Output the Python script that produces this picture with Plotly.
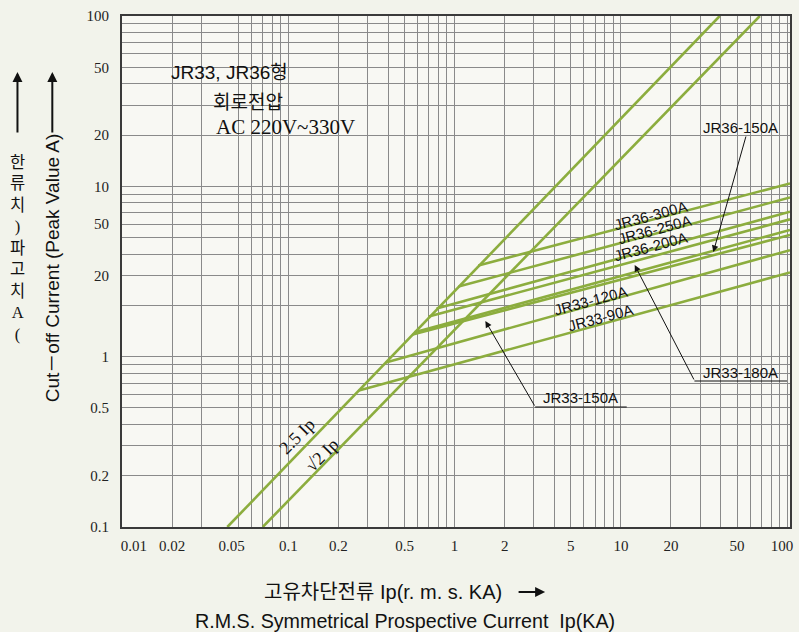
import plotly.graph_objects as go
import math

# ---------------- data ----------------
GREEN = "#8cad3e"

# diagonal reference lines (Ip in kA rms -> peak kA), end points
DIAG_25_X = [0.043, 39.3]
DIAG_25_Y = [0.1, 100.0]
DIAG_SQ2_X = [0.0702, 68.5]
DIAG_SQ2_Y = [0.1, 100.0]

# cut-off characteristics: start on 2.5 Ip line, end at right border
JR36_300_X = [1.39, 104.0]
JR36_300_Y = [3.43, 10.4]
JR36_250_X = [1.057, 104.0]
JR36_250_Y = [2.58, 8.6]
JR36_200_X = [0.78, 104.0]
JR36_200_Y = [1.92, 7.1]
JR33_180_X = [0.70, 104.0]
JR33_180_Y = [1.72, 6.4]
JR36_150_X = [0.575, 104.0]
JR36_150_Y = [1.39, 5.55]
JR33_150_X = [0.56, 104.0]
JR33_150_Y = [1.35, 5.18]
JR33_120_X = [0.386, 104.0]
JR33_120_Y = [0.925, 4.22]
JR33_90_X = [0.266, 104.0]
JR33_90_Y = [0.632, 3.12]

SERIES = [
    (DIAG_25_X, DIAG_25_Y), (DIAG_SQ2_X, DIAG_SQ2_Y),
    (JR36_300_X, JR36_300_Y), (JR36_250_X, JR36_250_Y), (JR36_200_X, JR36_200_Y),
    (JR33_180_X, JR33_180_Y), (JR36_150_X, JR36_150_Y), (JR33_150_X, JR33_150_Y),
    (JR33_120_X, JR33_120_Y), (JR33_90_X, JR33_90_Y),
]

# grid lines
X_GRID = [0.02, 0.03, 0.05, 0.06, 0.07, 0.08, 0.09,
          0.1, 0.2, 0.3, 0.4, 0.5, 0.6, 0.7, 0.8, 0.9,
          1, 2, 3, 4, 5, 6, 7, 8, 9,
          10, 20, 30, 40, 50, 60, 70, 80, 90, 100]
Y_GRID = [0.2, 0.3, 0.4, 0.5, 0.6, 0.7, 0.8, 0.9,
          1, 2, 3, 4, 5, 6, 7, 8, 9,
          10, 20, 30, 40, 50, 60, 70, 80, 90]

# tick labels (as printed on the chart)
X_TICK_POS = [0.0118, 0.02, 0.0456, 0.1, 0.2, 0.5, 1, 2, 5, 10, 20, 50, 93]
X_TICK_TEXT = ["0.01", "0.02", "0.05", "0.1", "0.2", "0.5", "1", "2", "5", "10", "20", "50", "100"]
Y_TICK_POS = [100, 50, 20, 10, 6, 3, 1, 0.5, 0.2, 0.1]
Y_TICK_TEXT = ["100", "50", "20", "10", "50", "20", "1", "0.5", "0.2", "0.1"]

X_RANGE = [math.log10(0.01), math.log10(104)]
Y_RANGE = [-1, 2]

# ---------------- figure ----------------
fig = go.Figure()
for xs, ys in SERIES:
    fig.add_trace(go.Scatter(x=xs, y=ys, mode="lines",
                             line=dict(color=GREEN, width=2.6),
                             hoverinfo="skip", showlegend=False))
# dummy trace for overlay axes
fig.add_trace(go.Scatter(x=[], y=[], xaxis="x2", yaxis="y2", showlegend=False))

SERIF = "Liberation Serif, Times New Roman, serif"
SANS = "Liberation Sans, Arial, Noto Sans CJK KR, sans-serif"
KR = "Noto Sans CJK KR, sans-serif"
AXC = "#3a3a3a"
GRIDC = "#8a8a8a"

fig.update_layout(
    width=799, height=632,
    margin=dict(l=122, r=6, t=16, b=105),
    paper_bgcolor="#f2f3eb",
    plot_bgcolor="#f8f8f3",
    xaxis=dict(type="log", range=X_RANGE, tickmode="array", tickvals=X_GRID,
               showticklabels=False, ticks="", showgrid=True, gridcolor=GRIDC,
               gridwidth=1.2, showline=True, linecolor=AXC, linewidth=2,
               mirror=True, zeroline=False),
    yaxis=dict(type="log", range=Y_RANGE, tickmode="array", tickvals=Y_GRID,
               showticklabels=False, ticks="", showgrid=True, gridcolor=GRIDC,
               gridwidth=1.2, showline=True, linecolor=AXC, linewidth=2,
               mirror=True, zeroline=False),
    xaxis2=dict(type="log", range=X_RANGE, overlaying="x", side="bottom",
                anchor="y2", tickmode="array", tickvals=X_TICK_POS,
                ticktext=X_TICK_TEXT, showgrid=False, showline=False,
                ticks="", ticklabelstandoff=8, zeroline=False,
                tickfont=dict(family=SERIF, size=15, color="#222")),
    yaxis2=dict(type="log", range=Y_RANGE, overlaying="y", side="left",
                anchor="x2", tickmode="array", tickvals=Y_TICK_POS,
                ticktext=Y_TICK_TEXT, showgrid=False, showline=False,
                ticks="", ticklabelstandoff=12, zeroline=False,
                tickfont=dict(family=SERIF, size=15, color="#222")),
    showlegend=False,
)

L, W, T, H = 122, 671, 16, 511


def px(x):
    return (x - L) / W


def py(y):
    return (T + H - y) / H


ann = []


def text(t, x, y, size=14, family=SANS, angle=0, xanchor="center", color="#111"):
    ann.append(dict(text=t, x=px(x), y=py(y), xref="paper", yref="paper",
                    showarrow=False, textangle=angle, xanchor=xanchor,
                    yanchor="middle", font=dict(family=family, size=size, color=color)))


def arrow(hx, hy, tx, ty, width=1, size=1.3, head=2, color="#111"):
    ann.append(dict(text="", x=px(hx), y=py(hy), xref="paper", yref="paper",
                    showarrow=True, ax=tx - hx, ay=ty - hy, arrowhead=head,
                    arrowsize=size, arrowwidth=width, arrowcolor=color))


# top-left info
text("JR33, JR36형", 230, 72, size=19)
text("회로전압", 249, 100, size=19, family=KR)
text("AC 220V~330V", 286, 127, size=21, family=SERIF)

# diagonal labels
text("2.5 Ip", 298, 436, size=18, family=SERIF, angle=-45)
text("√2 Ip", 323, 455, size=18, family=SERIF, angle=-45)

# rotated series labels
text("JR36-300A", 653, 215, size=15, angle=-15)
text("JR36-250A", 657, 229, size=15, angle=-15)
text("JR36-200A", 653, 246, size=15, angle=-15)
text("JR33-120A", 593, 300, size=15, angle=-15)
text("JR33-90A", 603, 317, size=15, angle=-15)

# callout labels
text("JR36-150A", 743, 127, size=15)
text("JR33-180A", 743, 372, size=15)
text("JR33-150A", 583, 397, size=15)
arrow(716, 252, 749, 135)
arrow(637, 265, 697, 381)
arrow(487, 321, 537, 407)

# underlines
shapes = [
    dict(type="line", xref="paper", yref="paper", x0=px(697), x1=px(790),
         y0=py(381), y1=py(381), line=dict(color="#111", width=1)),
    dict(type="line", xref="paper", yref="paper", x0=px(537), x1=px(629),
         y0=py(407), y1=py(407), line=dict(color="#111", width=1)),
]
fig.update_layout(shapes=shapes)

# y-axis titles
text("Cut－off Current (Peak Value A)", 52, 268, size=19, angle=-90)
KCHARS = ["한", "류", "치", ")", "파", "고", "치", "A", "("]
text("<br>".join(KCHARS), 17, 248, size=16.5,
     family="Liberation Serif, Noto Sans CJK KR, serif")
arrow(17, 72, 17, 134, width=2, size=1.0, head=2)
arrow(52, 72, 52, 134, width=2, size=1.0, head=2)

# x-axis titles
text("고유차단전류 Ip(r. m. s. KA)", 384, 592, size=20, family=SANS)
arrow(547, 592, 519, 592, width=2, size=1.0, head=2)
text("R.M.S. Symmetrical Prospective Current  Ip(KA)", 406, 621, size=19.7)

fig.update_layout(annotations=ann)

fig.write_html("out.html", config={"displayModeBar": False},
               post_script="document.body.style.margin='0px';document.body.style.overflow='hidden';")
